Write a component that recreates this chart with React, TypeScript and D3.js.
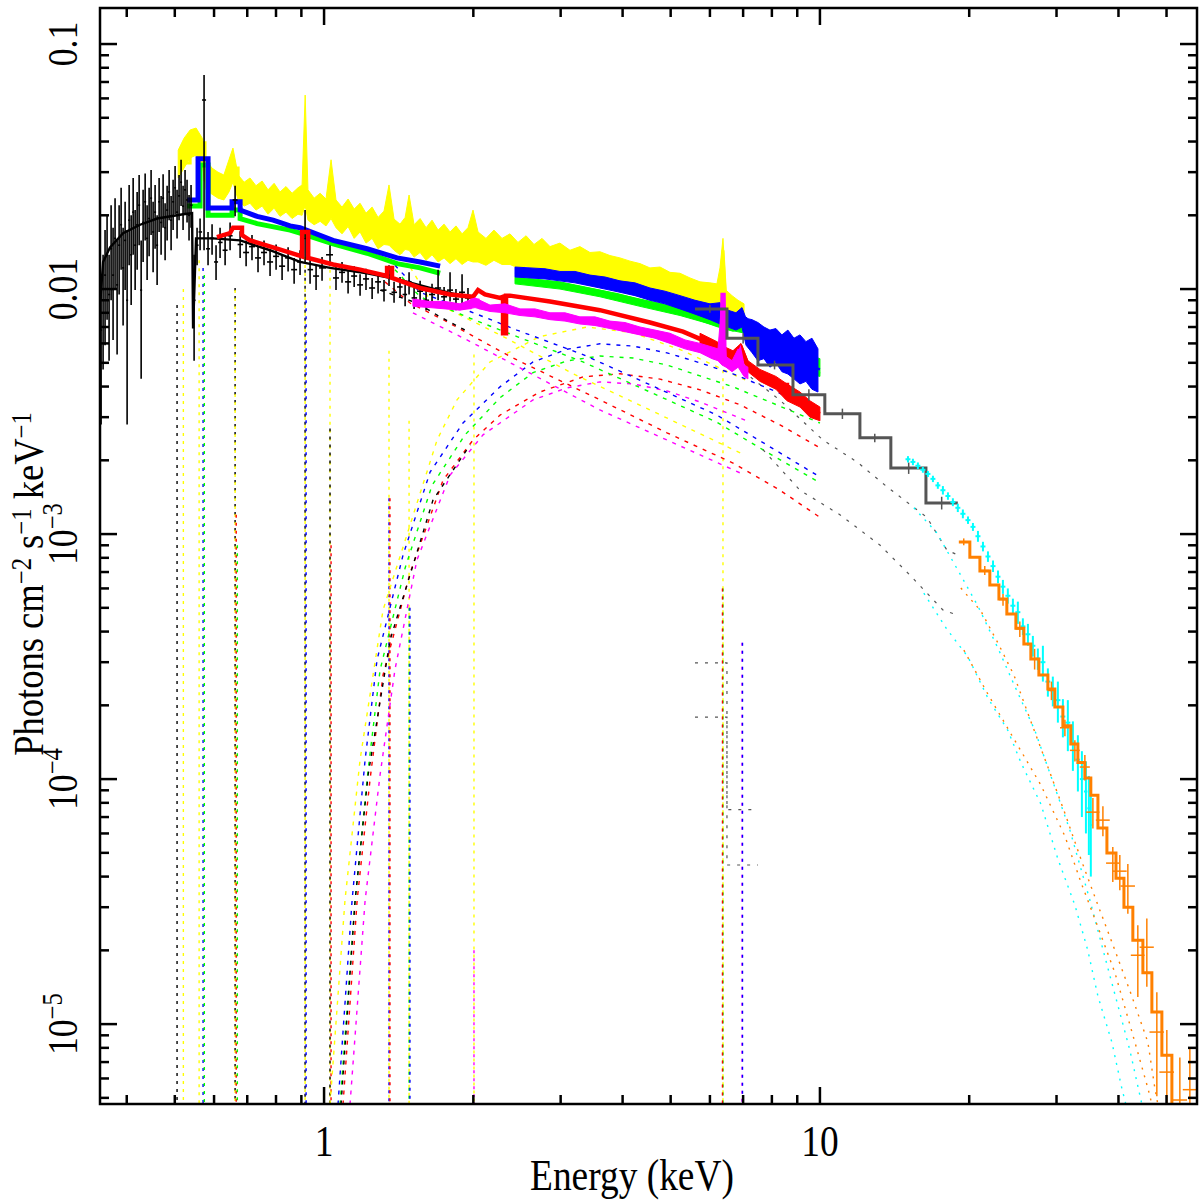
import React from "react";
import * as d3 from "d3";

type P = [number, number];
type B = [number, number, number]; // energy, low, high
type Err = [number, number, number, number]; // energy, value, low, high

// plot frame (px)
const X0 = 100, X1 = 1197, Y0 = 8, Y1 = 1104;
const FLOOR = 4.72e-6;

const COL = {
    black: "#000000", red: "#ff0000", green: "#00ff00", blue: "#0000ff",
    cyan: "#00ffff", magenta: "#ff00ff", yellow: "#ffff00", orange: "#ff8000", gray: "#555555",
};

// ---------------- data ----------------
const blackData: Err[] = [
    [0.3551, 0.0068, 0.0028, 0.0099], [0.3584, 0.009, 0.0047, 0.0138], [0.3617, 0.0114, 0.0059, 0.0174],
    [0.3651, 0.0138, 0.0075, 0.02], [0.3685, 0.0095, 0.0051, 0.0138], [0.372, 0.0146, 0.009, 0.022],
    [0.3754, 0.0114, 0.0062, 0.0178], [0.3789, 0.0161, 0.0101, 0.0235], [0.3825, 0.0104, 0.0054, 0.0158],
    [0.3861, 0.0151, 0.0095, 0.022], [0.3897, 0.0183, 0.012, 0.0259], [0.3933, 0.0122, 0.0071, 0.0178],
    [0.397, 0.0158, 0.0099, 0.0227], [0.4007, 0.009, 0.0028, 0.0174], [0.4045, 0.0191, 0.0125, 0.0266],
    [0.4083, 0.0138, 0.0086, 0.02], [0.4121, 0.0206, 0.0138, 0.0284], [0.4159, 0.0151, 0.0099, 0.021],
    [0.4198, 0.0183, 0.012, 0.0249], [0.4237, 0.022, 0.0151, 0.0292], [0.4277, 0.0099, 0.0043, 0.0158],
    [0.4316, 0.0187, 0.0129, 0.0254], [0.4357, 0.0227, 0.0158, 0.0296], [0.4397, 0.0161, 0.0109, 0.022],
    [0.4438, 0.0194, 0.0136, 0.0259], [0.4479, 0.0235, 0.0166, 0.0306], [0.4521, 0.0171, 0.0117, 0.0227],
    [0.4563, 0.0206, 0.0146, 0.0266], [0.4606, 0.0151, 0.0104, 0.02], [0.4649, 0.0227, 0.0171, 0.0284],
    [0.4692, 0.0187, 0.0138, 0.024], [0.4736, 0.0235, 0.0178, 0.0294], [0.478, 0.0178, 0.0131, 0.0224],
    [0.4825, 0.021, 0.0158, 0.0264], [0.487, 0.0249, 0.0191, 0.0306], [0.4915, 0.0191, 0.0144, 0.024],
    [0.4961, 0.0227, 0.0174, 0.0279], [0.5007, 0.0259, 0.0202, 0.0318], [0.5053, 0.0206, 0.0161, 0.0254],
    [0.51, 0.024, 0.0191, 0.0292], [0.5148, 0.0273, 0.0218, 0.0337], [0.5196, 0.0218, 0.0174, 0.0264],
    [0.5244, 0.0254, 0.0202, 0.0306], [0.5293, 0.0231, 0.0187, 0.0279], [0.5342, 0.02, 0.0158, 0.0242],
    [0.5392, 0.022, 0.0178, 0.0266], [0.5469, 0.009, 0.0051, 0.0138], [0.5545, 0.0151, 0.0125, 0.0178],
    [0.5623, 0.0171, 0.0144, 0.0194], [0.5728, 0.0591, 0.0144, 0.0747], [0.5835, 0.0146, 0.0125, 0.0171],
    [0.5945, 0.0161, 0.0138, 0.0184], [0.6056, 0.0129, 0.0109, 0.0151], [0.617, 0.0155, 0.0134, 0.0178],
    [0.6316, 0.0144, 0.0125, 0.0165], [0.6464, 0.0165, 0.0144, 0.0187], [0.6616, 0.0231, 0.0198, 0.0264],
    [0.6772, 0.0152, 0.0134, 0.0172], [0.6963, 0.0141, 0.0124, 0.0158], [0.7156, 0.0149, 0.0131, 0.0166],
    [0.7359, 0.0134, 0.0117, 0.0149], [0.7567, 0.0141, 0.0125, 0.0158], [0.7782, 0.0129, 0.0113, 0.0144],
    [0.8003, 0.0136, 0.012, 0.0152], [0.8229, 0.0124, 0.0109, 0.0139], [0.8462, 0.0134, 0.0118, 0.0148],
    [0.8702, 0.012, 0.0105, 0.0134], [0.8945, 0.0129, 0.0114, 0.0144], [0.9156, 0.0161, 0.0129, 0.021],
    [0.9371, 0.012, 0.0105, 0.0134], [0.9636, 0.0113, 0.0099, 0.0126], [0.9907, 0.0122, 0.0108, 0.0135],
    [1.028, 0.0138, 0.0124, 0.0151], [1.057, 0.0111, 0.0099, 0.0123], [1.087, 0.0117, 0.0106, 0.0129],
    [1.118, 0.0107, 0.0096, 0.0119], [1.15, 0.0113, 0.0102, 0.0124], [1.182, 0.0104, 0.0094, 0.0115],
    [1.215, 0.011, 0.0099, 0.0121], [1.25, 0.0101, 0.0091, 0.0111], [1.285, 0.0107, 0.0096, 0.0117],
    [1.321, 0.0099, 0.0089, 0.0109], [1.352, 0.0114, 0.0103, 0.0125], [1.384, 0.0097, 0.0088, 0.0107],
    [1.423, 0.0102, 0.0092, 0.0112], [1.457, 0.0095, 0.0085, 0.0104], [1.484, 0.0107, 0.0095, 0.0117],
    [1.519, 0.0092, 0.0083, 0.0101], [1.562, 0.0098, 0.0089, 0.0108], [1.606, 0.009, 0.0082, 0.0099],
    [1.651, 0.0095, 0.0086, 0.0105], [1.698, 0.0101, 0.009, 0.012], [1.746, 0.0093, 0.0084, 0.0102],
    [1.795, 0.0099, 0.0089, 0.0117], [1.845, 0.0091, 0.0082, 0.01], [1.898, 0.0097, 0.0087, 0.0115],
    [1.951, 0.0092, 0.0083, 0.0101],
];

const blackModel: P[] = [
    [0.354, 0.009], [0.3584, 0.0129], [0.3702, 0.0148], [0.3933, 0.0169], [0.4256, 0.0183],
    [0.4606, 0.0194], [0.5196, 0.0202], [0.5418, 0.0204], [0.5443, 0.0069], [0.5519, 0.0161],
    [0.5973, 0.0161], [0.6772, 0.0158], [0.7782, 0.0144], [0.8945, 0.0129], [1.028, 0.0122],
    [1.221, 0.0116], [1.423, 0.0109], [1.636, 0.0101], [1.97, 0.0092],
];

const yellowBand: B[] = [
    [0.508, 0.0284, 0.0369], [0.522, 0.0312, 0.0413], [0.537, 0.0343, 0.0446], [0.552, 0.0352, 0.0454],
    [0.568, 0.0321, 0.0413], [0.578, 0.0254, 0.0337], [0.594, 0.0244, 0.0312], [0.611, 0.0235, 0.03],
    [0.628, 0.0231, 0.0292], [0.643, 0.0249, 0.0337], [0.655, 0.0273, 0.0376], [0.671, 0.0231, 0.0292],
    [0.69, 0.0218, 0.0273], [0.709, 0.0224, 0.0284], [0.729, 0.021, 0.0264], [0.75, 0.0218, 0.0276],
    [0.771, 0.0202, 0.0254], [0.793, 0.0214, 0.027], [0.815, 0.0198, 0.0249], [0.838, 0.0206, 0.0262],
    [0.862, 0.0194, 0.0246], [0.886, 0.0202, 0.0259], [0.903, 0.02, 0.0266], [0.916, 0.022, 0.0619],
    [0.928, 0.0191, 0.0254], [0.955, 0.0183, 0.0235], [0.982, 0.0189, 0.0246], [1.009, 0.0181, 0.0233],
    [1.033, 0.0194, 0.0337], [1.057, 0.0178, 0.0231], [1.087, 0.0168, 0.0216], [1.118, 0.018, 0.0233],
    [1.15, 0.0161, 0.0212], [1.182, 0.0171, 0.0224], [1.215, 0.0154, 0.0204], [1.25, 0.0161, 0.0216],
    [1.285, 0.0146, 0.0196], [1.321, 0.0152, 0.0208], [1.352, 0.0151, 0.0266], [1.384, 0.0144, 0.0193],
    [1.423, 0.0138, 0.0184], [1.457, 0.0145, 0.0196], [1.484, 0.0144, 0.0242], [1.519, 0.0135, 0.0183],
    [1.562, 0.0141, 0.0194], [1.606, 0.0131, 0.0178], [1.651, 0.0138, 0.0191], [1.698, 0.0129, 0.0174],
    [1.746, 0.0134, 0.0184], [1.795, 0.0127, 0.0171], [1.845, 0.0133, 0.0181], [1.898, 0.0126, 0.0168],
    [1.951, 0.0131, 0.0178], [1.997, 0.0129, 0.021], [2.044, 0.0129, 0.0171], [2.121, 0.0125, 0.0161],
    [2.201, 0.0131, 0.0174], [2.285, 0.0126, 0.0161], [2.371, 0.0126, 0.0168], [2.461, 0.0122, 0.0155],
    [2.555, 0.0124, 0.0165], [2.651, 0.012, 0.0152], [2.752, 0.0122, 0.0161], [2.855, 0.0116, 0.0149],
    [2.99, 0.0115, 0.0154], [3.133, 0.011, 0.0144], [3.281, 0.0111, 0.0149], [3.438, 0.0106, 0.0141],
    [3.601, 0.0105, 0.0142], [3.772, 0.0102, 0.0137], [3.952, 0.0099, 0.0134], [4.14, 0.0097, 0.013],
    [4.336, 0.0094, 0.0127], [4.542, 0.009, 0.0122], [4.759, 0.0091, 0.0123], [4.985, 0.0087, 0.0117],
    [5.222, 0.0086, 0.0116], [5.47, 0.0083, 0.0111], [5.73, 0.008, 0.0107], [6.001, 0.008, 0.0106],
    [6.198, 0.0078, 0.0105], [6.287, 0.0078, 0.0122], [6.375, 0.0076, 0.0161], [6.465, 0.0075, 0.0099],
    [6.648, 0.0071, 0.0094], [6.836, 0.0069, 0.009], [7.03, 0.0067, 0.0087],
];

const yellowModel: P[] = [
    [0.508, 0.0327], [0.537, 0.0327], [0.537, 0.0395], [0.5754, 0.0395], [0.5754, 0.0279],
    [0.6405, 0.0273], [0.6405, 0.0312], [0.671, 0.0312], [0.671, 0.0249], [0.743, 0.0238],
    [0.8945, 0.022], [1.077, 0.0194], [1.423, 0.0161], [1.795, 0.0148], [2.264, 0.0144],
    [2.855, 0.0134], [3.601, 0.0123], [4.542, 0.0105], [5.73, 0.0093], [6.287, 0.0091],
    [6.375, 0.0144], [6.465, 0.0087], [7.03, 0.0078],
];

const blueModelLow: P[] = [
    [0.5293, 0.0231], [0.557, 0.0231], [0.557, 0.034], [0.5835, 0.034], [0.5835, 0.0214],
    [0.6523, 0.0214], [0.6523, 0.0227], [0.6772, 0.0227], [0.6772, 0.021], [0.7327, 0.0198],
    [0.7892, 0.0191], [0.8541, 0.0181], [0.8945, 0.0178], [1.0426, 0.0158], [1.221, 0.0146],
    [1.404, 0.0134], [1.562, 0.0129], [1.714, 0.0124],
];
const blueModelHigh: P[] = [
    [2.427, 0.0117], [3.09, 0.0112], [3.897, 0.0102], [4.915, 0.009], [5.73, 0.0081], [6.287, 0.0077],
    [6.677, 0.0072], [6.931, 0.0076], [7.095, 0.0076], [7.157, 0.0062], [7.818, 0.0056],
    [9.115, 0.005], [10.0, 0.0047],
];
const blueBand: B[] = [
    [2.427, 0.0112, 0.0123], [2.602, 0.0111, 0.0122], [2.79, 0.011, 0.0121], [2.99, 0.0108, 0.0118],
    [3.206, 0.0106, 0.0118], [3.438, 0.0103, 0.0114], [3.686, 0.01, 0.0112], [3.952, 0.0097, 0.0108],
    [4.236, 0.0094, 0.0106], [4.542, 0.009, 0.0101], [4.87, 0.0087, 0.0098], [5.222, 0.0083, 0.0094],
    [5.599, 0.0079, 0.009], [6.002, 0.0075, 0.0087], [6.287, 0.0072, 0.0088], [6.525, 0.007, 0.0082],
    [6.771, 0.0068, 0.008], [6.964, 0.007, 0.0084], [7.095, 0.0059, 0.0076], [7.295, 0.0055, 0.0075],
    [7.499, 0.0051, 0.0073], [7.711, 0.0052, 0.007], [7.928, 0.0048, 0.0068], [8.151, 0.005, 0.0069],
    [8.381, 0.0046, 0.0065], [8.617, 0.0045, 0.0068], [8.863, 0.0043, 0.0063], [9.115, 0.0041, 0.0065],
    [9.372, 0.0042, 0.0061], [9.636, 0.0039, 0.0063], [9.909, 0.0038, 0.0057],
];

const greenModelLow: P[] = [
    [0.5293, 0.0218], [0.5623, 0.0218], [0.5623, 0.0321], [0.5835, 0.0321], [0.5835, 0.02],
    [0.6523, 0.02], [0.6523, 0.021], [0.6772, 0.021], [0.6772, 0.0194], [0.7327, 0.0185],
    [0.8541, 0.0174], [0.8945, 0.0169], [1.0426, 0.0153], [1.221, 0.014], [1.404, 0.0127],
    [1.562, 0.0122], [1.714, 0.0116],
];
const greenModelHigh: P[] = [
    [2.427, 0.0109], [3.09, 0.0104], [3.897, 0.0095], [4.915, 0.0084], [6.198, 0.0071],
    [6.677, 0.0068], [7.063, 0.007], [7.228, 0.006], [9.115, 0.0048], [10.0, 0.0045],
];
const greenBand: B[] = [
    [2.427, 0.0105, 0.0112], [2.99, 0.01, 0.0107], [3.601, 0.0093, 0.0099], [4.336, 0.0085, 0.0091],
    [5.222, 0.0078, 0.0084], [6.002, 0.0072, 0.0078], [6.586, 0.0068, 0.0074], [7.063, 0.0066, 0.0073],
    [7.568, 0.0056, 0.0066], [8.307, 0.005, 0.006], [9.115, 0.0046, 0.0055], [10.0, 0.0044, 0.0052],
];

const redModel: P[] = [
    [0.608, 0.0163], [0.646, 0.0169], [0.6555, 0.0178], [0.683, 0.0178], [0.683, 0.0166],
    [0.709, 0.0158], [0.789, 0.0148], [0.903, 0.0136], [0.903, 0.0171], [0.929, 0.0171],
    [0.929, 0.0134], [1.043, 0.0126], [1.182, 0.012], [1.34, 0.0113], [1.34, 0.0122],
    [1.371, 0.0122], [1.371, 0.0111], [1.562, 0.0101], [1.795, 0.0095], [1.997, 0.0093],
    [2.044, 0.0099], [2.111, 0.0095], [2.264, 0.0092], [2.296, 0.0093], [2.296, 0.0066],
    [2.328, 0.0066], [2.328, 0.0094], [2.371, 0.0094], [2.855, 0.0089], [3.601, 0.0082],
    [4.542, 0.0073], [5.296, 0.0067], [6.198, 0.00585], [6.435, 0.00558], [6.677, 0.00533],
    [6.931, 0.00574], [7.157, 0.00485], [7.818, 0.00429], [8.307, 0.00406], [8.58, 0.00406],
    [8.58, 0.00362], [9.115, 0.00346], [9.858, 0.00312], [10.0, 0.00309],
];
const redBand: B[] = [
    [5.73, 0.006, 0.0066], [6.198, 0.0056, 0.0061], [6.435, 0.0053, 0.0058], [6.677, 0.0051, 0.0056],
    [6.931, 0.0054, 0.006], [7.157, 0.0046, 0.0051], [7.568, 0.0042, 0.0047], [8.151, 0.0039, 0.0044],
    [8.58, 0.0035, 0.0041], [9.115, 0.0033, 0.0038], [9.546, 0.003, 0.0035], [10.0, 0.0029, 0.0033],
];

const magentaModel: P[] = [
    [1.511, 0.00877], [1.854, 0.0084], [1.97, 0.0084], [1.988, 0.009], [2.044, 0.009], [2.063, 0.0084],
    [2.264, 0.0083], [2.855, 0.0077], [3.601, 0.0072], [4.542, 0.0065], [5.296, 0.0059],
    [6.198, 0.0053], [6.316, 0.0053], [6.35, 0.0095], [6.405, 0.0095], [6.435, 0.0051],
    [6.677, 0.0048], [6.9, 0.0056], [7.03, 0.0046], [7.157, 0.0045],
];
const magentaBand: B[] = [
    [1.511, 0.0085, 0.0091], [1.636, 0.0084, 0.0089], [1.754, 0.0083, 0.0089], [1.88, 0.0082, 0.0087],
    [2.016, 0.0084, 0.0092], [2.161, 0.0081, 0.0086], [2.317, 0.008, 0.0087], [2.484, 0.0078, 0.0083],
    [2.663, 0.0077, 0.0083], [2.855, 0.0075, 0.008], [3.061, 0.0074, 0.008], [3.281, 0.0072, 0.0077],
    [3.518, 0.0071, 0.0077], [3.772, 0.0069, 0.0074], [4.045, 0.0067, 0.0073], [4.336, 0.0065, 0.007],
    [4.649, 0.0063, 0.0068], [4.985, 0.006, 0.0066], [5.345, 0.0057, 0.0062], [5.73, 0.0055, 0.006],
    [6.058, 0.0052, 0.0058], [6.229, 0.0051, 0.0057], [6.344, 0.0049, 0.009], [6.465, 0.0048, 0.0053],
    [6.65, 0.0046, 0.0051], [6.84, 0.0048, 0.0057], [7.03, 0.0044, 0.0049], [7.157, 0.0043, 0.0048],
];

const grayEdges = [5.598, 6.494, 7.499, 8.823, 10.23, 12.04, 13.9, 16.36, 18.97];
const grayValues = [0.0083, 0.0063, 0.0049, 0.0037, 0.0031, 0.00247, 0.00186, 0.00134];
const grayData: [number, number, number][] = [
    [6.0, 0.0083, 0.0003], [7.0, 0.0063, 0.0003], [8.1, 0.0049, 0.0002], [9.5, 0.0037, 0.0002],
    [11.1, 0.0031, 0.00015], [12.9, 0.00247, 0.0001], [15.1, 0.00186, 0.0001], [17.6, 0.00134, 0.00008],
];
const grayLineA = [0.000298, 0.0000751];
const grayLineB = [0.000179, 0.0000446];

const cyanData: [number, number, number][] = [
    [15.05, 0.00202, 0.00006], [15.4, 0.00197, 0.00006], [15.76, 0.0019, 0.00006], [16.13, 0.00183, 0.00005],
    [16.51, 0.00176, 0.00005], [16.9, 0.00168, 0.00005], [17.29, 0.00158, 0.00005], [17.7, 0.00151, 0.00006],
    [18.12, 0.00143, 0.00005], [18.54, 0.00135, 0.00005], [18.97, 0.00128, 0.00005], [19.42, 0.00121, 0.00005],
    [19.89, 0.00114, 0.00004], [20.35, 0.00107, 0.00004], [20.83, 0.00098, 0.00005], [21.32, 0.00089, 0.00004],
    [21.82, 0.00081, 0.00004], [22.34, 0.00074, 0.00004], [22.86, 0.00067, 0.00004], [23.39, 0.00061, 0.00004],
    [23.93, 0.00056, 0.00004], [24.5, 0.00051, 0.000035], [25.07, 0.00048, 0.00005], [25.66, 0.00042, 0.000033],
    [26.27, 0.00039, 0.00004], [26.88, 0.00035, 0.000034], [27.51, 0.00031, 0.000031], [28.16, 0.0003, 0.00005],
    [28.82, 0.00025, 0.000033], [29.49, 0.00023, 0.000032], [30.19, 0.00021, 0.00004], [30.9, 0.00018, 0.000032],
    [31.62, 0.00017, 0.00004], [32.37, 0.00014, 0.000032], [33.13, 0.00012, 0.000031], [33.75, 0.0001, 0.00003],
    [34.39, 0.000089, 0.000029], [34.86, 0.000076, 0.000027], [35.18, 0.000065, 0.000025],
];

const orangeEdges = [
    19.06, 20.06, 21.02, 22.01, 22.96, 23.82, 24.84, 25.78, 26.63, 27.64, 28.82, 29.77, 30.9, 32.06,
    33.13, 34.22, 35.18, 36.36, 37.91, 39.54, 41.03, 42.76, 44.8, 46.71, 48.93, 51.26, 53.69,
];
const orangeValues = [
    0.000928, 0.000805, 0.000706, 0.000619, 0.000543, 0.000472, 0.000413, 0.000356, 0.000309, 0.000266,
    0.000233, 0.000197, 0.000165, 0.000139, 0.000117, 0.000101, 0.000086, 0.0000631, 0.0000499, 0.0000394,
    0.00003, 0.000022, 0.0000162, 0.0000112, 0.00000747, 0.000003,
];
const orangeData: [number, number, number, number][] = [
    [19.5, 0.00093, 0.4, 0.00003], [21.5, 0.00071, 0.45, 0.00003], [23.4, 0.00054, 0.45, 0.00003],
    [25.3, 0.00041, 0.5, 0.00003], [27.1, 0.00031, 0.5, 0.00003], [29.3, 0.00023, 0.5, 0.00002],
    [31.19, 0.000162, 0.7, 0.0000126], [32.67, 0.000131, 0.75, 0.0000129], [34.22, 0.000112, 0.8, 0.0000134],
    [35.52, 0.0000733, 1.1, 0.0000105], [37.21, 0.000068, 1.2, 0.0000095], [38.96, 0.0000454, 1.2, 0.0000074],
    [40.25, 0.0000421, 1.3, 0.0000069], [41.78, 0.0000366, 1.4, 0.0000084], [43.76, 0.0000191, 1.4, 0.0000062],
    [45.63, 0.0000206, 1.5, 0.0000064], [47.8, 0.00000928, 1.6, 0.0000042], [50.07, 0.00000637, 1.7, 0.0000031],
    [53.19, 0.0000049, 1.8, 0.0000024], [55.72, 0.0000054, 1.8, 0.0000026],
];

// model components (dotted)
const yellowHump: P[] = [
    [1.028, 4.7e-6], [1.102, 3.2e-5], [1.182, 0.00012], [1.315, 0.00049], [1.491, 0.00109], [1.69, 0.00242],
    [1.854, 0.00353], [2.161, 0.00504], [2.725, 0.0064], [3.39, 0.007], [4.198, 0.00663], [5.296, 0.0056],
    [6.198, 0.00482], [7.063, 0.00426],
];
const blueHump: P[] = [
    [1.067, 4.7e-6], [1.139, 3.2e-5], [1.21, 0.00012], [1.279, 0.000307], [1.443, 0.000821], [1.636, 0.00179],
    [1.906, 0.00284], [2.264, 0.00399], [2.639, 0.00504], [3.09, 0.00568], [3.601, 0.00598], [4.198, 0.00585],
    [4.915, 0.00549], [5.73, 0.005], [6.677, 0.00451], [7.818, 0.00395], [10.0, 0.00321],
];
const greenHump: P[] = [
    [1.077, 4.7e-6], [1.155, 3.2e-5], [1.227, 0.000109], [1.297, 0.000279], [1.457, 0.000727], [1.651, 0.00158],
    [1.924, 0.00254], [2.264, 0.0036], [2.639, 0.00456], [3.09, 0.00509], [3.601, 0.00533], [4.198, 0.00523],
    [4.915, 0.0049], [5.73, 0.00442], [6.677, 0.00399], [7.818, 0.0035], [10.0, 0.00284],
];
const redHump: P[] = [
    [1.092, 4.7e-6], [1.166, 3.2e-5], [1.238, 0.0000995], [1.315, 0.000266], [1.491, 0.000694], [1.738, 0.00166],
    [1.997, 0.00242], [2.264, 0.00306], [2.725, 0.0038], [3.328, 0.00438], [3.952, 0.00451], [4.759, 0.00429],
    [5.73, 0.00388], [6.9, 0.00337], [8.307, 0.00279], [10.0, 0.00225],
];
const magentaHump: P[] = [
    [1.128, 4.7e-6], [1.21, 3.2e-5], [1.297, 0.000104], [1.39, 0.00028], [1.539, 0.000783], [1.795, 0.00174],
    [2.092, 0.00254], [2.264, 0.00284], [2.639, 0.00353], [3.09, 0.00395], [3.601, 0.00418], [4.198, 0.0041],
    [4.915, 0.00384], [5.73, 0.00346], [7.063, 0.00292],
];
const blackHump: P[] = [
    [1.082, 4.7e-6], [1.155, 3.2e-5], [1.227, 0.000104], [1.359, 0.00037], [1.659, 0.00138], [1.97, 0.00231],
];
const blueSoft: P[] = [
    [1.39, 0.0125], [1.562, 0.0097], [1.97, 0.0081], [2.449, 0.0068], [3.328, 0.0054], [4.542, 0.00407],
    [6.198, 0.00306], [7.818, 0.00231], [10.0, 0.00171],
];
const greenSoft: P[] = [
    [1.39, 0.012], [1.562, 0.0093], [1.97, 0.0076], [2.449, 0.0064], [3.328, 0.00504], [4.542, 0.0038],
    [6.198, 0.00286], [7.818, 0.00216], [10.0, 0.00162],
];
const redSoft: P[] = [
    [1.327, 0.0107], [1.491, 0.00877], [1.738, 0.0075], [2.404, 0.00523], [3.601, 0.00353], [4.915, 0.00259],
    [6.677, 0.00195], [8.307, 0.00151], [10.0, 0.00117],
];
const magentaSoft: P[] = [
    [1.511, 0.008], [1.942, 0.0062], [2.639, 0.00447], [3.601, 0.00321], [4.915, 0.00242], [7.063, 0.00174],
];
const yellowSoft: P[] = [
    [1.423, 0.0144], [1.636, 0.009], [2.264, 0.0065], [3.206, 0.00447], [4.542, 0.00321], [7.063, 0.0021],
];
const blackSoft: P[] = [[1.297, 0.0099], [1.539, 0.00877], [1.714, 0.0077], [1.97, 0.00663]];

const grayUpper: P[] = [
    [6.74, 0.0049], [8.307, 0.00352], [10.14, 0.00242], [11.88, 0.00197], [13.65, 0.00156], [16.43, 0.00117],
    [18.03, 0.000861], [18.97, 0.000821],
];
const grayLower: P[] = [
    [7.676, 0.00221], [9.115, 0.00151], [10.97, 0.0012], [13.21, 0.000902], [15.19, 0.00068], [17.7, 0.00049],
    [18.97, 0.000466],
];
const cyanUpper: P[] = [
    [15.47, 0.00128], [17.22, 0.00101], [18.97, 0.000713], [20.83, 0.000508], [22.86, 0.000342], [24.61, 0.000244],
    [27.13, 0.000158], [29.22, 0.000103], [31.92, 0.0000619], [35.02, 0.0000321], [38.43, 0.0000158],
    [42.17, 0.00000783], [44.59, 0.00000471],
];
const cyanLower: P[] = [
    [16.2, 0.000574], [18.03, 0.000409], [19.89, 0.000315], [21.82, 0.000214], [23.93, 0.000158],
    [25.42, 0.000117], [27.9, 0.0000791], [30.19, 0.0000472], [32.67, 0.0000306], [34.69, 0.00002],
    [36.36, 0.000013], [38.79, 0.00000844], [40.62, 0.00000548], [41.39, 0.00000471],
];
const orangeUpper: P[] = [
    [19.24, 0.000602], [21.12, 0.000485], [22.86, 0.000359], [24.61, 0.000266], [26.63, 0.000172],
    [28.82, 0.000112], [31.19, 0.0000726], [33.59, 0.0000472], [36.36, 0.0000306], [39.35, 0.00002],
    [42.56, 0.000013], [45.85, 0.00000844], [47.36, 0.00000548], [48.02, 0.00000471],
];
const orangeLower: P[] = [
    [19.51, 0.000336], [21.82, 0.000222], [24.61, 0.000146], [27.9, 0.0000945], [31.19, 0.0000585],
    [33.59, 0.000038], [36.36, 0.0000249], [39.35, 0.0000162], [43.17, 0.00000844], [45.85, 0.00000548],
    [46.71, 0.00000471],
];

// narrow emission-line components: energy, colour, peak
const lineComps: [number, keyof typeof COL, number][] = [
    [0.5053, "black", 0.0086], [0.5203, "yellow", 0.01], [0.5598, "yellow", 0.0131], [0.5702, "blue", 0.0122],
    [0.5735, "green", 0.0114], [0.6616, "black", 0.0101], [0.6616, "yellow", 0.0099], [0.665, "red", 0.0012],
    [0.6685, "green", 0.0009], [0.9156, "yellow", 0.0135], [0.9156, "black", 0.012], [0.92, "blue", 0.009],
    [1.028, "yellow", 0.012], [1.028, "black", 0.0027], [1.033, "red", 0.0009], [1.352, "yellow", 0.0056],
    [1.352, "blue", 0.0014], [1.358, "red", 0.0014], [1.484, "yellow", 0.0029], [1.484, "green", 0.0005],
    [1.49, "blue", 0.0005], [2.006, "yellow", 0.0054], [2.006, "magenta", 0.00002], [6.375, "yellow", 0.0085],
    [6.375, "green", 0.0006], [6.36, "red", 0.0006], [6.964, "magenta", 0.00036], [6.98, "blue", 0.00036],
];

// ---------------- scales & shapes ----------------
const x = d3.scaleLog().domain([0.3533, 57.6]).range([X0, X1]);
const y = d3.scaleLog().domain([FLOOR, 0.1403]).range([Y1, Y0]);

const line = d3.line<P>().x((d) => x(d[0])).y((d) => y(d[1]));
const band = d3.area<B>().x((d) => x(d[0])).y0((d) => y(d[1])).y1((d) => y(d[2]));

const steps = (edges: number[], vals: number[]): P[] => {
    const pts: P[] = [];
    vals.forEach((v, i) => {
        pts.push([edges[i], v]);
        pts.push([edges[i + 1], v]);
    });
    return pts;
};

const xMajor = [1, 10];
const xMinor: number[] = [];
[0.1, 1, 10].forEach((dec) => {
    for (let k = 2; k <= 9; k++) {
        const v = k * dec;
        if (v > 0.3533 && v < 57.6) xMinor.push(v);
    }
});
const yMajor = [1e-5, 1e-4, 1e-3, 1e-2, 1e-1];
const yMinor: number[] = [];
[1e-6, 1e-5, 1e-4, 1e-3, 1e-2, 1e-1].forEach((dec) => {
    for (let k = 2; k <= 9; k++) {
        const v = k * dec;
        if (v > FLOOR && v < 0.1403) yMinor.push(v);
    }
});

const FONT = "'Liberation Serif', 'Times New Roman', serif";

const Comp: React.FC<{ d: P[]; c: string; dash?: string; w?: number }> = ({ d, c, dash = "4 6", w = 1.4 }) => (
    <path d={line(d) ?? ""} fill="none" stroke={c} strokeWidth={w} strokeDasharray={dash} />
);

const Model: React.FC<{ d: P[]; c: string; w?: number }> = ({ d, c, w = 3 }) => (
    <path d={line(d) ?? ""} fill="none" stroke={c} strokeWidth={w} strokeLinejoin="miter" />
);

const midLeft = (arr: number[], i: number) =>
    i > 0 ? Math.sqrt(arr[i - 1] * arr[i]) : arr[i] * Math.sqrt(arr[i] / arr[i + 1]);
const midRight = (arr: number[], i: number) =>
    i < arr.length - 1 ? Math.sqrt(arr[i] * arr[i + 1]) : arr[i] * Math.sqrt(arr[i] / arr[i - 1]);

const App: React.FC = () => {
    const blackE = blackData.map((d) => d[0]);
    const cyanE = cyanData.map((d) => d[0]);
    return (
        <svg width={1200} height={1200} style={{ position: "absolute", left: 0, top: 0, background: "#fff" }}
            fontFamily={FONT}>
            <defs>
                <clipPath id="plot">
                    <rect x={X0} y={Y0} width={X1 - X0} height={Y1 - Y0} />
                </clipPath>
            </defs>
            <rect x={0} y={0} width={1200} height={1200} fill="#fff" />

            <g clipPath="url(#plot)">
                {/* emission line components */}
                {lineComps.map(([e, c, f], i) => (
                    <line key={"lc" + i} x1={x(e)} x2={x(e)} y1={y(f)} y2={Y1} stroke={COL[c]}
                        strokeWidth={1.4} strokeDasharray="3 5" />
                ))}
                <Comp d={steps(grayEdges.slice(0, 3), grayLineA)} c={COL.gray} dash="3 7" w={1.2} />
                <Comp d={steps(grayEdges.slice(0, 3), grayLineB)} c={COL.gray} dash="3 7" w={1.2} />

                {/* continuum components */}
                <Comp d={yellowHump} c={COL.yellow} />
                <Comp d={blueHump} c={COL.blue} />
                <Comp d={greenHump} c={COL.green} />
                <Comp d={redHump} c={COL.red} />
                <Comp d={magentaHump} c={COL.magenta} />
                <Comp d={blackHump} c={COL.black} />
                <Comp d={yellowSoft} c={COL.yellow} />
                <Comp d={blueSoft} c={COL.blue} />
                <Comp d={greenSoft} c={COL.green} />
                <Comp d={redSoft} c={COL.red} />
                <Comp d={magentaSoft} c={COL.magenta} />
                <Comp d={blackSoft} c={COL.black} />
                <Comp d={grayUpper} c={COL.gray} dash="3 7" w={1.2} />
                <Comp d={grayLower} c={COL.gray} dash="3 7" w={1.2} />
                <Comp d={cyanUpper} c={COL.cyan} dash="2 6" w={1.4} />
                <Comp d={cyanLower} c={COL.cyan} dash="2 6" w={1.4} />
                <Comp d={orangeUpper} c={COL.orange} dash="2 6" w={1.4} />
                <Comp d={orangeLower} c={COL.orange} dash="2 6" w={1.4} />

                {/* yellow spectrum */}
                <path d={band(yellowBand) ?? ""} fill={COL.yellow} stroke={COL.yellow} strokeWidth={1} />
                <Model d={yellowModel} c={COL.yellow} />

                {/* green & blue spectra */}
                <path d={band(greenBand) ?? ""} fill={COL.green} stroke={COL.green} strokeWidth={1} />
                <Model d={greenModelLow} c={COL.green} w={5} />
                <Model d={greenModelHigh} c={COL.green} w={3} />
                <path d={band(blueBand) ?? ""} fill={COL.blue} stroke={COL.blue} strokeWidth={1} />
                <Model d={blueModelLow} c={COL.blue} w={5} />
                <Model d={blueModelHigh} c={COL.blue} w={2.5} />

                {/* black spectrum */}
                {blackData.map((d, i) => (
                    <g key={"bk" + i} stroke={COL.black} strokeWidth={1.6}>
                        <line x1={x(d[0])} x2={x(d[0])} y1={y(d[2])} y2={y(d[3])} />
                        <line x1={x(midLeft(blackE, i))} x2={x(midRight(blackE, i))} y1={y(d[1])} y2={y(d[1])} />
                    </g>
                ))}
                <Model d={blackModel} c={COL.black} w={2.4} />

                {/* red & magenta spectra */}
                <path d={band(redBand) ?? ""} fill={COL.red} stroke={COL.red} strokeWidth={1} />
                <Model d={redModel} c={COL.red} w={4.5} />
                <path d={band(magentaBand) ?? ""} fill={COL.magenta} stroke={COL.magenta} strokeWidth={1} />
                <Model d={magentaModel} c={COL.magenta} w={3.5} />

                {/* gray broad-band spectrum */}
                <Model d={steps(grayEdges, grayValues)} c={COL.gray} w={3} />
                {grayData.map((d, i) => (
                    <line key={"gd" + i} x1={x(d[0])} x2={x(d[0])} y1={y(d[1] - d[2])} y2={y(d[1] + d[2])}
                        stroke={COL.gray} strokeWidth={1.5} />
                ))}

                {/* cyan spectrum */}
                {cyanData.map((d, i) => (
                    <g key={"cy" + i} stroke={COL.cyan} strokeWidth={2}>
                        <line x1={x(d[0])} x2={x(d[0])} y1={y(d[1] - d[2])} y2={y(d[1] + d[2])} />
                        <line x1={x(midLeft(cyanE, i))} x2={x(midRight(cyanE, i))} y1={y(d[1])} y2={y(d[1])} />
                    </g>
                ))}

                {/* orange spectrum */}
                <Model d={steps(orangeEdges, orangeValues)} c={COL.orange} w={3} />
                {orangeData.map((d, i) => (
                    <g key={"or" + i} stroke={COL.orange} strokeWidth={1.5}>
                        <line x1={x(d[0])} x2={x(d[0])} y1={y(Math.max(d[1] - d[3], FLOOR))} y2={y(d[1] + d[3])} />
                        <line x1={x(d[0] - d[2])} x2={x(d[0] + d[2])} y1={y(d[1])} y2={y(d[1])} />
                    </g>
                ))}
            </g>

            {/* frame & ticks */}
            <rect x={X0} y={Y0} width={X1 - X0} height={Y1 - Y0} fill="none" stroke="#000" strokeWidth={2.5} />
            <g stroke="#000" strokeWidth={2.5}>
                {xMajor.map((v) => (
                    <g key={"xM" + v}>
                        <line x1={x(v)} x2={x(v)} y1={Y1} y2={Y1 - 17} />
                        <line x1={x(v)} x2={x(v)} y1={Y0} y2={Y0 + 17} />
                    </g>
                ))}
                {xMinor.map((v) => (
                    <g key={"xm" + v}>
                        <line x1={x(v)} x2={x(v)} y1={Y1} y2={Y1 - 9} />
                        <line x1={x(v)} x2={x(v)} y1={Y0} y2={Y0 + 9} />
                    </g>
                ))}
                {yMajor.map((v) => (
                    <g key={"yM" + v}>
                        <line x1={X0} x2={X0 + 17} y1={y(v)} y2={y(v)} />
                        <line x1={X1} x2={X1 - 17} y1={y(v)} y2={y(v)} />
                    </g>
                ))}
                {yMinor.map((v) => (
                    <g key={"ym" + v}>
                        <line x1={X0} x2={X0 + 9} y1={y(v)} y2={y(v)} />
                        <line x1={X1} x2={X1 - 9} y1={y(v)} y2={y(v)} />
                    </g>
                ))}
            </g>

            {/* tick labels */}
            {xMajor.map((v) => (
                <g key={"xl" + v} transform={`translate(${x(v)},1156) scale(0.85,1)`}>
                    <text textAnchor="middle" fontSize={44} fill="#000">{v}</text>
                </g>
            ))}
            {yMajor.map((v) => (
                <g key={"yl" + v} transform={`translate(77,${y(v)}) rotate(-90) scale(0.85,1)`}>
                    <text textAnchor="middle" fontSize={42} fill="#000">
                        {v >= 0.01 ? (
                            v === 0.1 ? "0.1" : "0.01"
                        ) : (
                            <>
                                <tspan>10</tspan>
                                <tspan dy={-15} fontSize={29}>{"\u2212" + Math.round(-Math.log10(v))}</tspan>
                            </>
                        )}
                    </text>
                </g>
            ))}

            {/* axis titles */}
            <g transform="translate(632,1190) scale(0.85,1)">
                <text textAnchor="middle" fontSize={44} fill="#000">Energy (keV)</text>
            </g>
            <g transform="translate(43,584) rotate(-90) scale(0.85,1)">
                <text textAnchor="middle" fontSize={43} fill="#000">
                    <tspan>Photons cm</tspan>
                    <tspan dy={-12} fontSize={29}>{"\u22122"}</tspan>
                    <tspan dy={12}> s</tspan>
                    <tspan dy={-12} fontSize={29}>{"\u22121"}</tspan>
                    <tspan dy={12}> keV</tspan>
                    <tspan dy={-12} fontSize={29}>{"\u22121"}</tspan>
                </text>
            </g>
        </svg>
    );
};

export default App;
